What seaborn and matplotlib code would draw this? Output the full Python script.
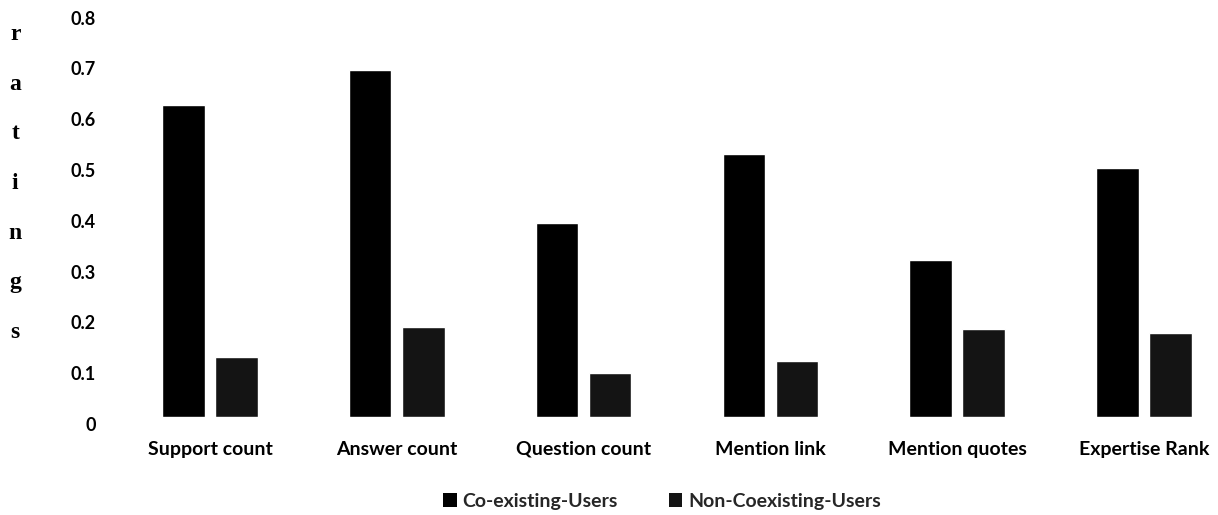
import matplotlib
matplotlib.use("Agg")
import matplotlib.pyplot as plt
from matplotlib.patches import Patch
from matplotlib.transforms import ScaledTranslation
import seaborn as sns
import pandas as pd

# Feature-wise ratings for the two user groups
features = ["Support count", "Answer count", "Question count",
            "Mention link", "Mention quotes", "Expertise Rank"]
coexisting = [0.614, 0.683, 0.381, 0.517, 0.310, 0.490]
non_coexisting = [0.118, 0.177, 0.087, 0.110, 0.173, 0.165]
groups = ["Co-existing-Users", "Non-Coexisting-Users"]
yticks = [0, 0.1, 0.2, 0.3, 0.4, 0.5, 0.6, 0.7, 0.8]
ytick_labels = ["0", "0.1", "0.2", "0.3", "0.4", "0.5", "0.6", "0.7", "0.8"]

df = pd.DataFrame({
    "feature": features * 2,
    "rating": coexisting + non_coexisting,
    "group": [groups[0]] * len(features) + [groups[1]] * len(features),
})

sns.set_theme(style="white")
plt.rcParams["font.family"] = ["Lato", "DejaVu Sans"]

colors = ["#000000", "#141414"]

fig = plt.figure(figsize=(12.18, 5.15), dpi=100)
ax = fig.add_axes([0.0957, 0.1903, 0.9018, 0.7891])

sns.barplot(data=df, x="feature", y="rating", hue="group", order=features,
            hue_order=groups, palette=colors, width=0.568, gap=0.2,
            saturation=1, legend=False, ax=ax)

ax.set_xlim(-0.5, 5.38)
ax.set_ylim(0, 0.8)
ax.set_yticks(yticks)
ax.set_yticklabels(ytick_labels)
ax.set_xlabel("")
ax.set_ylabel("")
for s in ax.spines.values():
    s.set_visible(False)
ax.tick_params(axis="both", length=0, colors="#000000")
ax.tick_params(axis="y", pad=15, labelsize=13)
ax.tick_params(axis="x", pad=17, labelsize=14)
for lab in ax.get_yticklabels() + ax.get_xticklabels():
    lab.set_fontweight("bold")
# y tick labels sit a little below their gridline positions
offset = ScaledTranslation(0, -7 / 100, fig.dpi_scale_trans)
for lab in ax.get_yticklabels():
    lab.set_transform(lab.get_transform() + offset)

# Vertical, letter-stacked axis title
fig.text(0.0125, (515 - 24) / 515, "r\na\nt\ni\nn\ng\ns", ha="center", va="top",
         fontsize=17, fontweight="bold", family="Liberation Serif",
         linespacing=2.79, color="#000000")

handles = [Patch(facecolor=c, edgecolor="none") for c in colors]
fig.legend(handles, groups, loc="center", bbox_to_anchor=(0.5435, 0.027),
           ncol=2, frameon=False, handlelength=0.7, handleheight=0.7,
           handletextpad=0.3, columnspacing=2.6,
           prop={"family": "Lato", "weight": "bold", "size": 14})

fig.savefig("out.png", dpi=100)
